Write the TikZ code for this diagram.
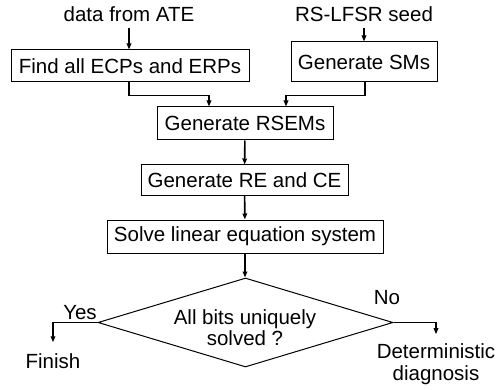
\documentclass[tikz,border=0pt]{standalone}
\usepackage{fontspec}
\setmainfont{Liberation Sans}
\usetikzlibrary{arrows.meta,shapes.geometric}
\tikzset{
  every node/.style={font=\fontsize{20.5}{21}\selectfont, inner sep=0pt},
  procbox/.style={draw, line width=1pt, align=center},
  decision/.style={draw, diamond, line width=1pt, aspect=3},
  lbl/.style={align=center},
  arr/.style={line width=1.6pt, -{Triangle[length=6pt,width=4.5pt]}},
}
\begin{document}
\begin{tikzpicture}[x=1pt, y=-1pt]
  \useasboundingbox (0,0) rectangle (500,390);

  % inputs
  \node[lbl] (data) at (129,14) {data from ATE};
  \node[lbl] (seed) at (364,14) {RS-LFSR seed};

  % processing steps
  \node[procbox, minimum width=238pt, minimum height=32pt] (f1) at (130,66) {Find all ECPs and ERPs};
  \node[procbox, minimum width=146pt, minimum height=40pt] (g2) at (364,62) {Generate SMs};
  \node[procbox, minimum width=176pt, minimum height=33pt] (g3) at (245,123.5) {Generate RSEMs};
  \node[procbox, minimum width=207pt, minimum height=30pt] (g4) at (244.5,180) {Generate RE and CE};
  \node[procbox, minimum width=276pt, minimum height=33pt] (g5) at (245,236.5) {Solve linear equation system};

  % decision
  \node[decision, minimum width=295pt, minimum height=89pt] (dec) at (245.5,322.5) {};
  \node[lbl] (dtext) at (245,328) {All bits uniquely\\solved ?};

  % outcomes
  \node[lbl] (yes) at (80,313) {Yes};
  \node[lbl] (no) at (387,298) {No};
  \node[lbl] (fin) at (53,361) {Finish};
  \node[lbl, font=\fontsize{20.5}{22}\selectfont] (det) at (436,364) {Deterministic\\diagnosis};

  % connectors
  \draw[arr] ([yshift=-6pt]data.south) -- (data.south |- f1.north);
  \draw[arr] ([yshift=-6pt]seed.south) -- (seed.south |- g2.north);
  \draw[arr] (data.south |- f1.south) -- ++(0,13) -| ([xshift=-36pt]g3.north);
  \draw[arr] ([xshift=1pt]g2.south) -- ++(0,13) -| ([xshift=41pt]g3.north);
  \draw[arr] (g3) -- (g4);
  \draw[arr] (g4) -- (g5);
  \draw[arr] (g5.south) -- (g5.south |- dec.north);
  \draw[arr] (dec.west) -| ([yshift=11pt]fin.north);
  \draw[arr] (dec.east) -| ([yshift=9pt]det.north);
\end{tikzpicture}
\end{document}
